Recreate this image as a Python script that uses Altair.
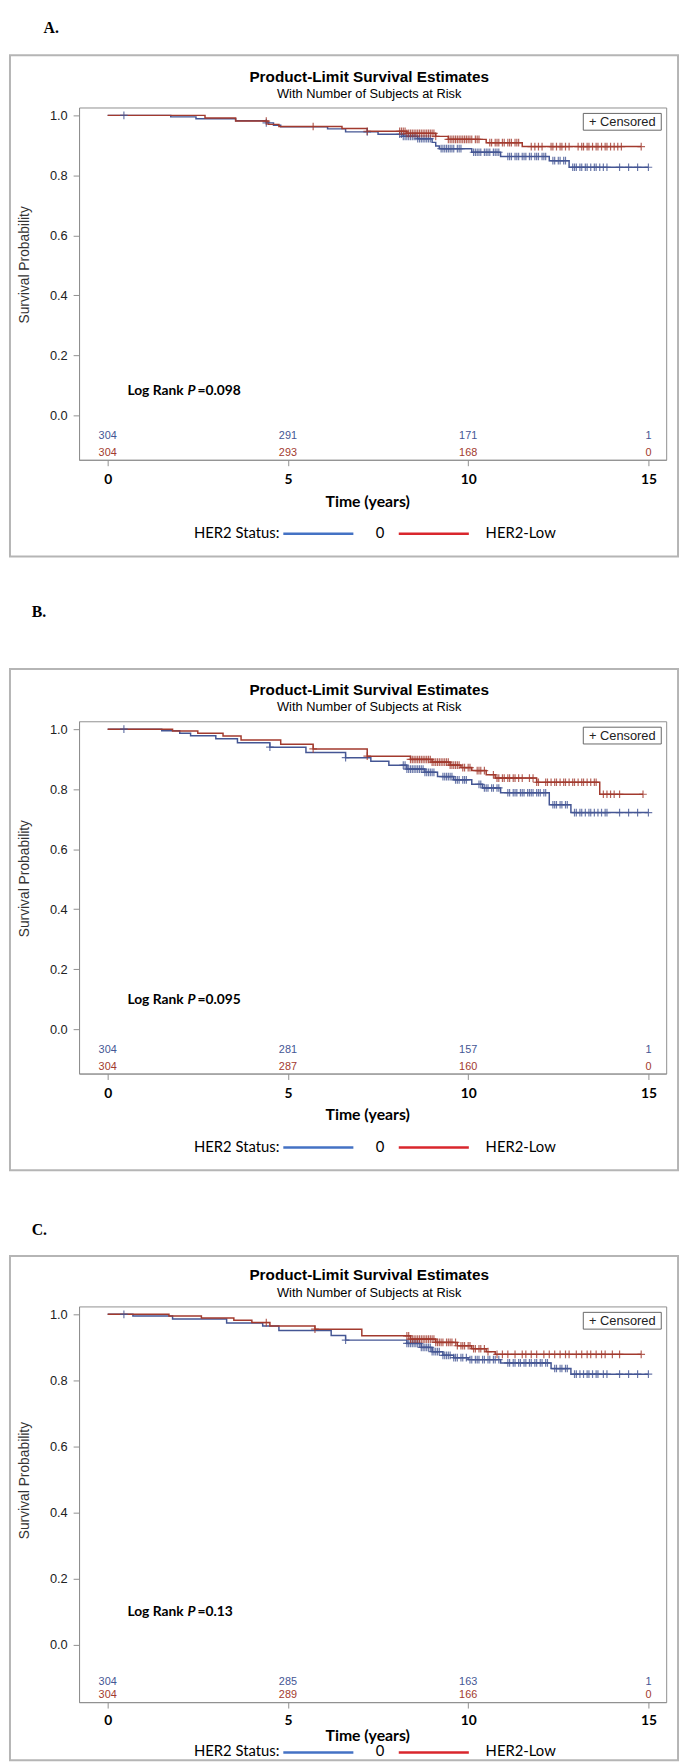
import altair as alt
import pandas as pd
import numpy as np

# ---------------- data ----------------
GROUPS = ["0", "HER2-Low"]
TIME_TICKS = [0, 5, 10, 15]
Y_TICKS = [0.0, 0.2, 0.4, 0.6, 0.8, 1.0]
PANEL_LABELS = ["A.", "B.", "C."]
P_TEXT = ["=0.098", "=0.095", "=0.13"]
TITLE = "Product-Limit Survival Estimates"
SUBTITLE = "With Number of Subjects at Risk"

# Panel A
A_BLUE_T = [0, 1.75, 2.45, 3.55, 4.4, 4.6, 4.8, 6.1, 6.6, 7.5, 8.2, 8.6, 9.0, 9.1, 9.2, 10.1, 10.9, 12.25, 12.8]
A_BLUE_S = [1.0, 0.995, 0.989, 0.982, 0.975, 0.967, 0.962, 0.955, 0.945, 0.937, 0.930, 0.922, 0.910, 0.898, 0.889, 0.877, 0.863, 0.849, 0.827]
A_BLUE_END = 15.0
A_RED_T = [0, 2.7, 3.55, 4.45, 4.75, 6.5, 7.2, 8.3, 9.1, 9.45, 10.5, 11.5]
A_RED_S = [1.0, 0.991, 0.981, 0.970, 0.963, 0.956, 0.947, 0.940, 0.930, 0.920, 0.909, 0.896]
A_RED_END = 14.8
A_BLUE_CENS = [0.45, 4.4, 7.2, 8.1, 8.15, 8.2, 8.25, 8.3, 8.35, 8.4, 8.45, 8.5, 8.55, 8.6, 8.65, 8.7, 8.75, 8.8,
               8.85, 8.9, 8.95, 9.25, 9.3, 9.35, 9.4, 9.45, 9.5, 9.55, 9.6, 9.7, 9.75, 9.8,
               10.15, 10.2, 10.25, 10.3, 10.35, 10.45, 10.5, 10.55, 10.6, 10.7, 10.75, 10.8, 10.85,
               11.1, 11.15, 11.2, 11.3, 11.35, 11.4, 11.5, 11.55, 11.6, 11.7, 11.75, 11.85, 11.9, 11.95, 12.05,
               12.1, 12.15, 12.35, 12.4, 12.5, 12.55, 12.65, 12.7, 12.9, 12.95, 13.0, 13.1, 13.15, 13.25, 13.3,
               13.4, 13.5, 13.55, 13.65, 13.75, 13.85, 14.2, 14.45, 14.7, 15.0]
A_RED_CENS = [4.4, 5.7, 7.2, 8.1, 8.15, 8.2, 8.25, 8.3, 8.35, 8.4, 8.45, 8.5, 8.55, 8.6, 8.65, 8.7, 8.75, 8.8, 8.85,
              8.9, 8.95, 9.0, 9.05, 9.1, 9.45, 9.5, 9.55, 9.6, 9.65, 9.7, 9.75, 9.8, 9.85, 9.9, 9.95, 10.0, 10.05,
              10.1, 10.2, 10.25, 10.3, 10.6, 10.65, 10.75, 10.8, 10.85, 10.95, 11.0, 11.1, 11.15, 11.2, 11.3, 11.35,
              11.4, 11.75, 11.85, 11.95, 12.05, 12.3, 12.35, 12.45, 12.55, 12.6, 12.7, 12.8, 13.05, 13.15, 13.2,
              13.3, 13.35, 13.45, 13.55, 13.6, 13.7, 13.8, 13.85, 13.95, 14.05, 14.15, 14.25, 14.8]
A_RISK_BLUE = [304, 291, 171, 1]
A_RISK_RED = [304, 293, 168, 0]

# Panel B
B_BLUE_T = [0, 1.5, 2.0, 2.3, 3.0, 3.6, 4.5, 5.5, 6.6, 7.3, 7.8, 8.3, 8.8, 9.15, 9.6, 10.1, 10.4, 10.9, 12.25, 12.85]
B_BLUE_S = [1.0, 0.995, 0.986, 0.978, 0.968, 0.955, 0.940, 0.922, 0.905, 0.893, 0.880, 0.867, 0.856, 0.842, 0.831, 0.816, 0.804, 0.788, 0.748, 0.722]
B_BLUE_END = 15.0
B_RED_T = [0, 1.8, 2.5, 3.2, 3.7, 4.8, 5.7, 7.2, 8.4, 9.0, 9.5, 9.8, 10.1, 10.5, 10.75, 11.9, 13.65]
B_RED_S = [1.0, 0.994, 0.986, 0.977, 0.964, 0.950, 0.934, 0.910, 0.899, 0.890, 0.880, 0.872, 0.862, 0.848, 0.837, 0.823, 0.783]
B_RED_END = 14.85
B_BLUE_CENS = [0.45, 4.5, 6.6, 8.2, 8.25, 8.3, 8.35, 8.4, 8.45, 8.5, 8.55, 8.6, 8.65, 8.7, 8.75, 8.8, 8.85, 8.9,
               8.95, 9.0, 9.05, 9.3, 9.35, 9.4, 9.45, 9.5, 9.55, 9.65, 9.7, 9.75, 9.85, 9.9, 9.95,
               10.3, 10.35, 10.45, 10.5, 10.55, 10.65, 10.7, 10.8, 10.85, 11.1, 11.15, 11.25, 11.3, 11.35, 11.45,
               11.5, 11.55, 11.65, 11.7, 11.75, 11.8, 11.9, 11.95, 12.0, 12.1, 12.15, 12.35, 12.4, 12.45, 12.55,
               12.6, 12.7, 12.75, 12.95, 13.0, 13.1, 13.15, 13.25, 13.35, 13.4, 13.5, 13.6, 13.7, 13.8, 13.85,
               14.2, 14.45, 14.7, 15.0]
B_RED_CENS = [5.7, 7.2, 8.4, 8.45, 8.5, 8.55, 8.6, 8.65, 8.7, 8.75, 8.8, 8.85, 8.9, 8.95, 9.0, 9.05, 9.1, 9.15,
              9.2, 9.25, 9.3, 9.35, 9.4, 9.45, 9.5, 9.55, 9.6, 9.65, 9.7, 9.75, 9.85, 9.9, 10.0, 10.05, 10.25,
              10.3, 10.35, 10.45, 10.7, 10.8, 10.85, 10.95, 11.0, 11.1, 11.15, 11.25, 11.3, 11.4, 11.5, 11.7,
              11.8, 11.9, 11.95, 12.15, 12.2, 12.3, 12.4, 12.45, 12.55, 12.65, 12.7, 12.8, 12.9, 12.95, 13.05,
              13.15, 13.2, 13.3, 13.4, 13.5, 13.55, 13.75, 13.85, 13.95, 14.05, 14.2, 14.85]
B_RISK_BLUE = [304, 281, 157, 1]
B_RISK_RED = [304, 287, 160, 0]

# Panel C
C_BLUE_T = [0, 0.7, 1.8, 3.3, 4.3, 4.75, 6.2, 6.6, 8.3, 8.7, 9.0, 9.3, 9.6, 10.0, 10.9, 12.3, 12.85]
C_BLUE_S = [1.0, 0.995, 0.986, 0.974, 0.965, 0.951, 0.936, 0.922, 0.912, 0.900, 0.887, 0.876, 0.869, 0.863, 0.853, 0.836, 0.819]
C_BLUE_END = 15.0
C_RED_T = [0, 1.7, 2.6, 3.5, 4.0, 4.5, 5.75, 7.05, 8.4, 9.1, 9.7, 10.1, 10.5, 10.75]
C_RED_S = [1.0, 0.995, 0.989, 0.982, 0.975, 0.965, 0.955, 0.935, 0.925, 0.915, 0.905, 0.896, 0.887, 0.879]
C_RED_END = 14.8
C_BLUE_CENS = [0.45, 6.6, 8.3, 8.35, 8.4, 8.45, 8.5, 8.55, 8.6, 8.65, 8.7, 8.75, 8.8, 8.85, 8.9, 8.95, 9.0, 9.05,
               9.1, 9.15, 9.2, 9.3, 9.35, 9.4, 9.45, 9.5, 9.6, 9.65, 9.7, 9.8, 9.85, 9.95, 10.05, 10.1, 10.2,
               10.25, 10.3, 10.4, 10.45, 10.55, 10.6, 10.7, 10.75, 10.85, 11.1, 11.15, 11.25, 11.3, 11.4, 11.45,
               11.55, 11.6, 11.7, 11.75, 11.85, 11.9, 12.0, 12.05, 12.15, 12.2, 12.4, 12.45, 12.55, 12.6, 12.7,
               12.75, 12.95, 13.0, 13.1, 13.2, 13.3, 13.35, 13.45, 13.55, 13.6, 13.75, 13.85, 14.2, 14.45, 14.7, 15.0]
C_RED_CENS = [4.4, 5.75, 8.3, 8.35, 8.4, 8.45, 8.5, 8.55, 8.6, 8.65, 8.7, 8.75, 8.8, 8.85, 8.9, 8.95, 9.0, 9.05,
              9.1, 9.15, 9.2, 9.25, 9.3, 9.4, 9.45, 9.5, 9.55, 9.65, 9.7, 9.8, 9.85, 9.9, 10.0, 10.05, 10.15,
              10.2, 10.3, 10.35, 10.45, 10.55, 10.8, 10.95, 11.1, 11.3, 11.5, 11.6, 11.75, 11.9, 12.1, 12.25,
              12.4, 12.55, 12.7, 12.8, 13.0, 13.15, 13.3, 13.4, 13.55, 13.7, 13.8, 14.0, 14.2, 14.8]
C_RISK_BLUE = [304, 285, 163, 1]
C_RISK_RED = [304, 289, 166, 0]

# ---------------- styling ----------------
BLUE = "#445694"
RED = "#A23A2E"
LEG_BLUE = "#4472C4"
LEG_RED = "#D9262C"
GRAY = "#8f8f8f"
SANS = "Liberation Sans"
CAL = "Lato"
SERIF = "Liberation Serif"

W = 595
X_DOMAIN = [-0.794, 15.493]
PLUS = "M-1,0L1,0M0,-1L0,1"


def one(**kw):
    return pd.DataFrame([kw])


def curve_df(ts, ss, end, g):
    t = list(ts) + [end]
    s = list(ss) + [ss[-1]]
    return pd.DataFrame({"t": t, "s": s, "g": g})


def cens_df(ts, ss, cens, g):
    arr = np.array(ts)
    vals = [ss[int(np.searchsorted(arr, c, side="right")) - 1] for c in cens]
    return pd.DataFrame({"t": cens, "s": vals, "g": g})


def txt(text, x, y, font=SANS, size=13, weight="normal", style="normal", align="left", color="#000"):
    return alt.Chart(one(label=text)).mark_text(
        font=font, fontSize=size, fontWeight=weight, fontStyle=style, align=align,
        baseline="middle", color=color
    ).encode(x=alt.value(x), y=alt.value(y), text="label:N")


def panel(i, bt, bs, bend, rt, rs, rend, bc, rc, risk_b, risk_r, lay):
    H = lay["H"]
    xs = alt.Scale(domain=X_DOMAIN, nice=False, zero=False)
    ys = alt.Scale(domain=lay["ydom"], nice=False, zero=False)
    xax = alt.Axis(values=TIME_TICKS, format="d", title="Time (years)", grid=False,
                   labelFont=CAL, labelFontSize=14, labelFontWeight="bold", labelColor="#000",
                   labelBaseline="middle", labelPadding=lay["xlab_pad"], tickSize=6, tickColor=GRAY,
                   domainColor=GRAY, titleFont=CAL, titleFontSize=16, titleFontWeight="bold",
                   titleColor="#000", titleBaseline="middle", titleAlign="center", titleX=292,
                   titleY=lay["xtitle_y"])
    yax = alt.Axis(values=Y_TICKS, format=".1f", title="Survival Probability", grid=False,
                   labelFont=SANS, labelFontSize=13, labelColor="#222", labelPadding=6, tickSize=6,
                   tickColor=GRAY, domainColor=GRAY, titleFont=SANS, titleFontSize=14,
                   titleFontWeight="normal", titleColor="#333", titleX=-55, titleY=lay["ytitle_y"],
                   titleAlign="center", titleBaseline="middle", titleAngle=270)
    X = alt.X("t:Q", scale=xs, axis=xax)
    Y = alt.Y("s:Q", scale=ys, axis=yax)
    col = alt.Color("g:N", scale=alt.Scale(domain=GROUPS, range=[BLUE, RED]), legend=None)

    curves = pd.concat([curve_df(bt, bs, bend, GROUPS[0]), curve_df(rt, rs, rend, GROUPS[1])])
    cens = pd.concat([cens_df(bt, bs, bc, GROUPS[0]), cens_df(rt, rs, rc, GROUPS[1])])

    fr, bx = lay["frame"], lay["box"]
    layers = []
    layers.append(alt.Chart(one(k=1)).mark_rect(fill="white", fillOpacity=0, strokeOpacity=0).encode(
        x=alt.value(-71), x2=alt.value(608), y=alt.value(fr[0]), y2=alt.value(fr[1])))
    layers.append(alt.Chart(one(k=1)).mark_rect(fill="white", fillOpacity=0, stroke="#b5b5b5", strokeWidth=2).encode(
        x=alt.value(-70), x2=alt.value(607), y=alt.value(bx[0]), y2=alt.value(bx[1])))
    layers.append(alt.Chart(curves).mark_line(interpolate="step-after", strokeWidth=1.5).encode(
        x=X, y=Y, color=col))
    layers.append(alt.Chart(cens).mark_point(shape=PLUS, size=60, filled=False, strokeWidth=1.2, opacity=0.8).encode(
        x=X, y=Y, color=col))
    layers.append(alt.Chart(pd.DataFrame({"t": TIME_TICKS, "n": risk_b})).mark_text(
        font=SANS, fontSize=11, color=BLUE, baseline="middle").encode(x=X, y=alt.value(lay["risk_y"][0]), text="n:Q"))
    layers.append(alt.Chart(pd.DataFrame({"t": TIME_TICKS, "n": risk_r})).mark_text(
        font=SANS, fontSize=11, color=RED, baseline="middle").encode(x=X, y=alt.value(lay["risk_y"][1]), text="n:Q"))
    layers.append(txt(TITLE, 294, lay["title_y"][0], size=15.5, weight="bold", align="center"))
    layers.append(txt(SUBTITLE, 294, lay["title_y"][1], size=13, align="center"))
    layers.append(txt(PANEL_LABELS[i], lay["label"][0], lay["label"][1], font=SERIF, size=16, weight="bold"))
    lr_y = lay["lr_y"]
    layers.append(txt("Log Rank", 49, lr_y, font=CAL, size=14, weight="bold"))
    layers.append(txt("P", 110, lr_y, font=CAL, size=14, weight="bold", style="italic"))
    layers.append(txt(P_TEXT[i], 120, lr_y, font=CAL, size=14, weight="bold"))
    layers.append(alt.Chart(one(k=1)).mark_rect(fill="white", stroke="#666", strokeWidth=1).encode(
        x=alt.value(511), x2=alt.value(590), y=alt.value(6), y2=alt.value(23)))
    layers.append(txt("+ Censored", 550.5, 15, size=13, align="center", color="#222"))
    ly = lay["leg_y"]
    layers.append(txt("HER2 Status:", 203, ly, font=CAL, size=15, align="right"))
    layers.append(alt.Chart(one(k=1)).mark_rule(color=LEG_BLUE, strokeWidth=2.5).encode(
        x=alt.value(207), x2=alt.value(278), y=alt.value(ly + 1)))
    layers.append(txt(GROUPS[0], 305, ly, font=CAL, size=15, align="center"))
    layers.append(alt.Chart(one(k=1)).mark_rule(color=LEG_RED, strokeWidth=2.5).encode(
        x=alt.value(324), x2=alt.value(395), y=alt.value(ly + 1)))
    layers.append(txt(GROUPS[1], 412, ly, font=CAL, size=15))

    return alt.layer(*layers).properties(width=W, height=H)


LAY_A = dict(H=357, ydom=[-0.148, 1.0263], frame=(-88, 479), box=(-53, 455), label=(-36, -80),
             title_y=(-31, -14), lr_y=287, risk_y=(333, 350), leg_y=431, xlab_pad=14, xtitle_y=42, ytitle_y=159)
LAY_B = dict(H=357, ydom=[-0.148, 1.0263], frame=(-141, 489), box=(-53, 455), label=(-48, -111),
             title_y=(-32, -14), lr_y=283, risk_y=(333, 350), leg_y=431, xlab_pad=14, xtitle_y=42, ytitle_y=159)
LAY_C = dict(H=401, ydom=[-0.1731, 1.0239], frame=(-102, 461), box=(-51, 460), label=(-48, -77),
             title_y=(-32, -14), lr_y=310, risk_y=(381, 394), leg_y=451, xlab_pad=13, xtitle_y=34, ytitle_y=176)

pA = panel(0, A_BLUE_T, A_BLUE_S, A_BLUE_END, A_RED_T, A_RED_S, A_RED_END, A_BLUE_CENS, A_RED_CENS,
           A_RISK_BLUE, A_RISK_RED, LAY_A)
pB = panel(1, B_BLUE_T, B_BLUE_S, B_BLUE_END, B_RED_T, B_RED_S, B_RED_END, B_BLUE_CENS, B_RED_CENS,
           B_RISK_BLUE, B_RISK_RED, LAY_B)
pC = panel(2, C_BLUE_T, C_BLUE_S, C_BLUE_END, C_RED_T, C_RED_S, C_RED_END, C_BLUE_CENS, C_RED_CENS,
           C_RISK_BLUE, C_RISK_RED, LAY_C)

chart = alt.vconcat(pA, pB, pC, spacing=0).properties(
    padding=0, background="white"
).configure_view(stroke=GRAY, strokeWidth=1).configure_concat(spacing=0)

chart.save("out.html", embed_options={"renderer": "svg", "actions": False})
